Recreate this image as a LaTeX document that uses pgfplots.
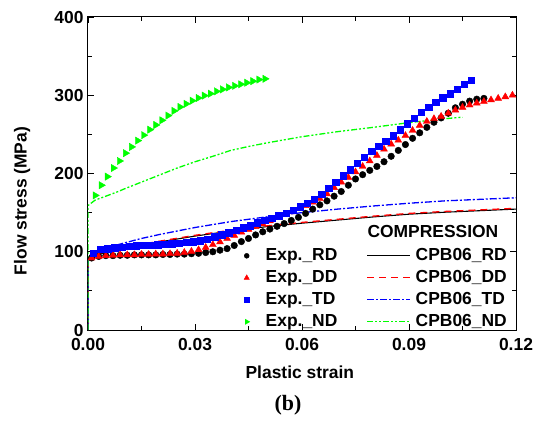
\documentclass[border=0pt]{standalone}
\usepackage{fontspec}
\setmainfont{Liberation Sans}
\newfontfamily\serifb{Liberation Serif}
\usepackage{pgfplots}
\pgfplotsset{compat=1.18}
\definecolor{cred}{RGB}{255,0,0}
\definecolor{cblue}{RGB}{0,0,255}
\definecolor{cgreen}{RGB}{0,255,0}
\newcommand{\fs}{\fontsize{17.5}{17.5}\selectfont}
\pgfplotsset{
  legRD/.style={legend image code/.code={\pgfsetstrokecolor{black}\pgfsetlinewidth{1.1bp}\pgfpathmoveto{\pgfpointorigin}\pgfpathlineto{\pgfpoint{43bp}{0bp}}\pgfusepath{stroke}}},
  legDD/.style={legend image code/.code={\pgfsetstrokecolor{cred}\pgfsetlinewidth{1.3bp}\pgfsetdash{{7bp}{5bp}}{0bp}\pgfpathmoveto{\pgfpointorigin}\pgfpathlineto{\pgfpoint{43bp}{0bp}}\pgfusepath{stroke}}},
  legTD/.style={legend image code/.code={\pgfsetstrokecolor{cblue}\pgfsetlinewidth{1.3bp}\pgfsetdash{{7bp}{2bp}{2bp}{2bp}}{0bp}\pgfpathmoveto{\pgfpointorigin}\pgfpathlineto{\pgfpoint{43bp}{0bp}}\pgfusepath{stroke}}},
  legND/.style={legend image code/.code={\pgfsetstrokecolor{cgreen}\pgfsetlinewidth{1.3bp}\pgfsetdash{{6bp}{2bp}{2bp}{2bp}{2bp}{2bp}}{0bp}\pgfpathmoveto{\pgfpointorigin}\pgfpathlineto{\pgfpoint{43bp}{0bp}}\pgfusepath{stroke}}},
}
\begin{document}
\begin{tikzpicture}
\begin{axis}[
  scale only axis, width=428bp, height=313bp,
  at={(0,0)}, anchor=south west,
  xmin=0, xmax=0.12, ymin=0, ymax=400,
  xtick={0,0.03,0.06,0.09,0.12}, xticklabels={0.00,0.03,0.06,0.09,0.12},
  minor xtick={0.015,0.045,0.075,0.105},
  ytick={0,100,200,300,400}, yticklabels={0,100,200,300,400},
  minor ytick={50,150,250,350},
  tick align=inside,
  major tick length=6bp, minor tick length=4bp,
  every tick/.style={black, line width=0.8bp},
  axis line style={line width=1bp},
  ticklabel style={font=\fs\bfseries},
  xticklabel style={yshift=-5bp},
  yticklabel style={xshift=-1bp},
  xlabel={Plastic strain},
  label style={font=\fs\bfseries},
  xlabel style={at={(rel axis cs:0.495,0)}, anchor=center, yshift=-42bp},
  legend columns=4, transpose legend,
  legend cell align=left,
  legend style={at={(rel axis cs:1,0)}, anchor=south east, draw=none, fill=none,
    xshift=-8bp, yshift=-1bp, inner sep=0pt, font=\fs\bfseries, row sep=4bp,
    nodes={inner sep=1bp, text height=12.5bp, text depth=3.5bp},
    /tikz/column 1/.style={column sep=15bp},
    /tikz/column 2/.style={column sep=28bp},
    /tikz/column 3/.style={column sep=4bp}},
]
% ---------- experiments ----------
\addplot[only marks, mark=*, mark size=3.3bp, mark options={draw=black, fill=black}, legend image post style={mark size=2.5bp}] coordinates {
(0.001,92)(0.003,94)(0.005,95)(0.007,95)(0.009,95.5)(0.011,95.5)(0.013,96)(0.015,96)(0.017,96)(0.019,96)
(0.021,96.5)(0.023,96.5)(0.025,97)(0.027,97)(0.029,97.5)(0.031,98)(0.033,99)(0.035,100)(0.037,102)(0.039,104)
(0.041,108)(0.043,113)(0.045,117)(0.047,121.5)(0.049,125.5)(0.051,129)(0.053,132.5)(0.055,136)(0.057,140)(0.059,144)
(0.061,149)(0.063,154.5)(0.065,160)(0.067,165)(0.069,171)(0.071,177)(0.073,185)(0.075,193)(0.077,198.5)(0.079,204)
(0.081,209)(0.083,215)(0.085,222)(0.087,229.5)(0.089,237)(0.091,245)(0.093,252)(0.095,259)(0.097,265.5)(0.099,271)
(0.101,277)(0.103,284)(0.105,288.5)(0.107,292.5)(0.109,295)(0.111,296)};
\addlegendentry{Exp.\_RD}
\addplot[only marks, mark=triangle*, mark size=4bp, mark options={draw=cred, fill=cred}, legend image post style={mark size=3bp}] coordinates {
(0.001,92)(0.003,94)(0.005,95)(0.007,95.5)(0.009,96)(0.011,96)(0.013,96)(0.015,96.5)(0.017,96.5)(0.019,97)
(0.021,97)(0.023,97.5)(0.025,98)(0.027,99)(0.029,100.5)(0.031,102.5)(0.033,105.5)(0.035,109)(0.037,112.5)(0.039,117)
(0.041,121)(0.043,125)(0.045,128.5)(0.047,132)(0.049,135.5)(0.051,139.5)(0.053,143.5)(0.055,147.5)(0.057,151)(0.059,155)
(0.061,159)(0.063,163.5)(0.065,168)(0.067,174)(0.069,182)(0.071,189)(0.073,195)(0.075,202)(0.077,209)(0.079,216)
(0.081,223)(0.083,231)(0.085,237.5)(0.087,242.5)(0.089,248.5)(0.091,255)(0.093,261.5)(0.095,266.5)(0.097,270)(0.099,273)
(0.101,277)(0.103,281)(0.105,284.5)(0.107,287.5)(0.109,290)(0.111,292)(0.113,294)(0.115,296)(0.117,298)(0.119,300)};
\addlegendentry{Exp.\_DD}
\addplot[only marks, mark=square*, mark size=3.2bp, mark options={draw=cblue, fill=cblue}, legend image post style={mark size=2.4bp}] coordinates {
(0.0015,98)(0.0035,103)(0.0055,104)(0.0075,105)(0.0095,106)(0.0115,107)(0.0135,107.5)(0.0155,108)(0.0175,108.5)(0.0195,109)
(0.0215,109.5)(0.0235,110.5)(0.0255,111)(0.0275,112)(0.0295,113)(0.0315,114)(0.0335,116)(0.0355,119)(0.0375,122)(0.0395,124.5)
(0.0415,127.5)(0.0435,130.5)(0.0455,133.5)(0.0475,137)(0.0495,140)(0.0515,143)(0.0535,146)(0.0555,149.5)(0.0575,153)(0.0595,157.5)
(0.0615,162)(0.0635,167)(0.0655,173.5)(0.0675,181)(0.0695,189)(0.0715,197)(0.0735,205)(0.0755,213)(0.0775,221)(0.0795,228.5)
(0.0815,235)(0.0835,241.5)(0.0855,248.5)(0.0875,256)(0.0895,263.5)(0.0915,271)(0.0935,278)(0.0955,285)(0.0975,291.5)(0.0995,297)
(0.1015,302)(0.1035,308)(0.1055,314)(0.1075,319.5)};
\addlegendentry{Exp.\_TD}
\addplot[only marks, mark=triangle*, mark size=4.2bp, mark options={draw=cgreen, fill=cgreen, rotate=-90}, legend image post style={mark size=3bp}] coordinates {
(0.0020,172)(0.0037,185)(0.0054,196)(0.0071,207)(0.0088,216)(0.0105,226)(0.0122,234)(0.0139,242)(0.0156,249)(0.0173,256)
(0.0190,262)(0.0207,268)(0.0224,274)(0.0241,280)(0.0258,285)(0.0275,289)(0.0292,293)(0.0309,296.5)(0.0326,299.5)(0.0343,302)
(0.0360,305)(0.0377,307.5)(0.0394,310)(0.0411,312)(0.0428,314)(0.0445,316)(0.0462,318)(0.0479,320)(0.0496,321)};
\addlegendentry{Exp.\_ND}
% ---------- CPB06 model ----------
\addplot[draw=black, line width=1.1bp, no marks, legRD] coordinates {
(0,0)(0,90)(0.001,94)(0.003,97)(0.006,100)(0.01,104)(0.02,112.5)(0.03,120)(0.04,126.5)(0.05,132)(0.06,136.5)
(0.07,140.5)(0.08,144.5)(0.09,148)(0.1,150.5)(0.11,152.5)(0.12,154.5)};
\addlegendentry{CPB06\_RD}
\addplot[draw=cred, line width=1.3bp, no marks, dash pattern=on 7bp off 5bp, legDD] coordinates {
(0,0)(0,91)(0.001,95)(0.003,98)(0.006,101)(0.01,105)(0.02,113.5)(0.03,121)(0.04,127.5)(0.05,133)(0.06,137.5)
(0.07,141.5)(0.08,145.5)(0.09,149)(0.1,151.5)(0.11,153.5)(0.12,155.5)};
\addlegendentry{CPB06\_DD}
\addplot[draw=cblue, line width=1.3bp, no marks, dash pattern=on 7bp off 2bp on 2bp off 2bp, legTD] coordinates {
(0,0)(0,92)(0.001,98)(0.003,102)(0.006,106)(0.01,111)(0.015,117)(0.02,122)(0.03,131)(0.04,138.5)(0.05,144.5)
(0.06,150)(0.07,154.5)(0.08,158.5)(0.09,162)(0.1,165)(0.11,167)(0.12,169)};
\addlegendentry{CPB06\_TD}
\addplot[draw=cgreen, line width=1.3bp, no marks, dash pattern=on 6bp off 2bp on 2bp off 2bp on 2bp off 2bp, legND] coordinates {
(0,0)(0,159)(0.002,166)(0.005,171)(0.0085,177)(0.01,180)(0.015,189)(0.02,198)(0.025,207)(0.03,215)(0.035,222)
(0.04,229.5)(0.045,234.5)(0.05,239)(0.06,247)(0.07,253.5)(0.08,259)(0.09,265)(0.1,270)(0.105,272)};
\addlegendentry{CPB06\_ND}
\node[font=\fs\bfseries, anchor=center] at (axis cs:0.0967,126) {COMPRESSION};
\end{axis}
\node[font=\fs\bfseries, rotate=90, anchor=center] at (-66bp,129bp) {Flow stress (MPa)};
\node[font=\serifb\fontsize{22}{22}\selectfont\bfseries, anchor=center] at (200bp,-75bp) {(b)};
\path (-88bp,-91bp) rectangle (453bp,330bp);
\end{tikzpicture}
\end{document}
